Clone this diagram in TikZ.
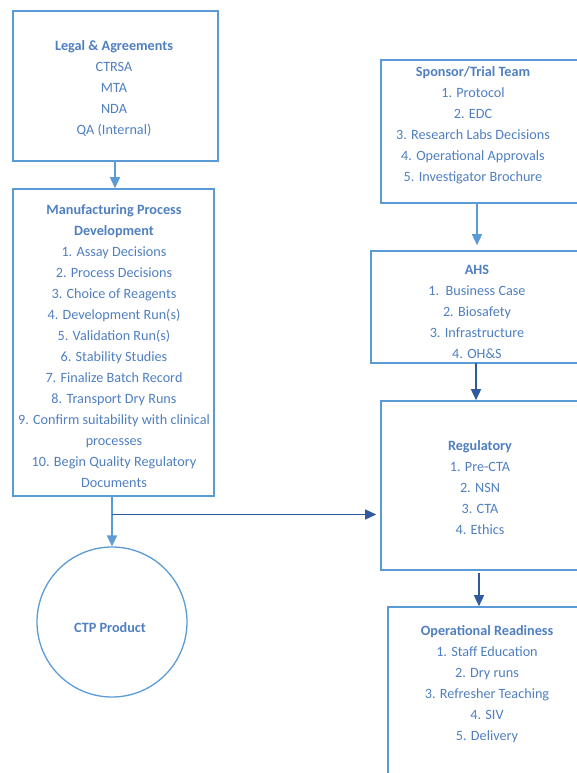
\documentclass[tikz,border=0pt]{standalone}
\usepackage{fontspec}
\setmainfont{Carlito}
\usetikzlibrary{arrows.meta}
\definecolor{boxblue}{HTML}{5B9BD5}
\definecolor{txtblue}{HTML}{4F7FC0}
\definecolor{darkblue}{HTML}{2F5A9E}
\tikzset{
  box/.style={draw=boxblue, line width=1.6pt, rectangle, inner sep=0pt},
  txt/.style={text=txtblue, align=center, font=\fontsize{14.2}{21}\selectfont, inner sep=0pt},
  lightarrow/.style={draw=boxblue, line width=1.4pt, -{Triangle[length=11pt,width=10pt]}},
  darkarrow/.style={draw=darkblue, line width=1.4pt, -{Triangle[length=11pt,width=10pt]}}
}
\begin{document}
\begin{tikzpicture}[x=1pt,y=-1pt]
\useasboundingbox (0,0) rectangle (577,773);
\clip (0,0) rectangle (577,773);
% boxes
\node[box, minimum width=205pt, minimum height=150pt] (legal) at (115.5,86) {};
\node[box, minimum width=201pt, minimum height=307pt] (manuf) at (113.5,342.5) {};
\node[box, minimum width=219pt, minimum height=143pt] (spons) at (490.5,131.5) {};
\node[box, minimum width=229pt, minimum height=112pt] (ahs) at (485.5,307) {};
\node[box, minimum width=219pt, minimum height=169pt] (reg) at (490.5,485.5) {};
\node[box, minimum width=222pt, minimum height=193pt] (oper) at (499,703.5) {};
\node[draw=boxblue, line width=1.3pt, circle, minimum size=150pt, inner sep=0pt] (ctp) at (112,622) {};
% texts
\node[txt] (legalt) at (114,88.5) {\textbf{Legal \& Agreements}\\CTRSA\\MTA\\NDA\\QA (Internal)};
\node[txt] (manuft) at (114,346) {\textbf{Manufacturing Process}\\\textbf{Development}\\1. Assay Decisions\\2. Process Decisions\\3. Choice of Reagents\\4. Development Run(s)\\5. Validation Run(s)\\6. Stability Studies\\7. Finalize Batch Record\\8. Transport Dry Runs\\9. Confirm suitability with clinical\\processes\\10. Begin Quality Regulatory\\Documents};
\node[txt] (sponst) at (473,125) {\textbf{Sponsor/Trial Team}\\1. Protocol\\2. EDC\\3. Research Labs Decisions\\4. Operational Approvals\\5. Investigator Brochure};
\node[txt] (ahst) at (477,311.5) {\textbf{AHS}\\1.\ \ Business Case\\2. Biosafety\\3. Infrastructure\\4. OH\&S};
\node[txt] (regt) at (480,487.5) {\textbf{Regulatory}\\1. Pre-CTA\\2. NSN\\3. CTA\\4. Ethics};
\node[txt] (opert) at (487,684) {\textbf{Operational Readiness}\\1. Staff Education\\2. Dry runs\\3. Refresher Teaching\\4. SIV\\5. Delivery};
\node[txt] (ctpt) at (110,628) {\textbf{CTP Product}};
% connectors
\coordinate (c1) at (115,161);
\draw[lightarrow] (c1) -- (c1 |- manuf.north);
\coordinate (c2) at (112,496);
\draw[lightarrow] (c2) -- (ctp.north);
\coordinate (br) at (112,514.5);
\draw[darkarrow, shorten >=4pt] (br) -- (br -| reg.west);
\coordinate (c3) at (477,203);
\draw[lightarrow, shorten >=5pt] (c3) -- (c3 |- ahs.north);
\coordinate (c4) at (476,363);
\draw[darkarrow] (c4) -- (c4 |- reg.north);
\coordinate (c5) at (479,573);
\draw[darkarrow] (c5) -- (c5 |- oper.north);
\end{tikzpicture}
\end{document}
